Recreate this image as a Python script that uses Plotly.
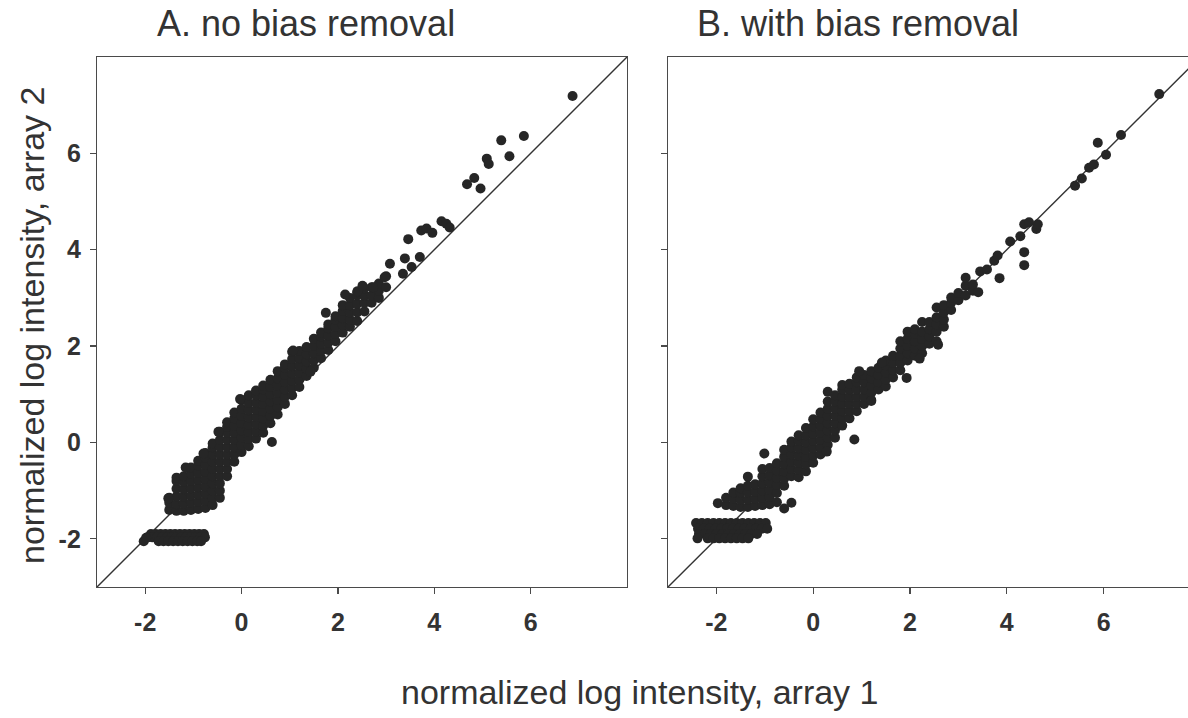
import plotly.graph_objects as go

# ---------------- data ----------------
panel_titles = ["A. no bias removal", "B. with bias removal"]
x_axis_title = "normalized log intensity, array 1"
y_axis_title = "normalized log intensity, array 2"
tick_values = [-2, 0, 2, 4, 6]
tick_labels = ["-2", "0", "2", "4", "6"]
identity_line = [-3, 8]

# Panel A: no bias removal.  Floor cluster rows (x values at a given y)
a_floor_rows = [
    (-1.90, [-1.88, -1.78, -1.68, -1.58, -1.48, -1.38, -1.28, -1.18, -1.08, -0.98, -0.88, -0.78]),
    (-1.97, [-1.95, -1.85, -1.75, -1.65, -1.55, -1.45, -1.35, -1.25, -1.15, -1.05, -0.95, -0.85, -0.76]),
    (-2.05, [-2.03, -1.72, -1.62, -1.52, -1.42, -1.32, -1.22, -1.12, -1.02, -0.92, -0.84]),
]
# Main band: columns (x, y values)
a_band_cols = [
    (-1.50, [-1.40, -1.25, -1.15]),
    (-1.35, [-1.42, -1.28, -1.12, -0.96, -0.80, -0.73]),
    (-1.20, [-1.42, -1.27, -1.12, -0.97, -0.82, -0.70]),
    (-1.05, [-1.40, -1.25, -1.10, -0.95, -0.80, -0.65, -0.52]),
    (-0.90, [-1.38, -1.23, -1.08, -0.93, -0.78, -0.63, -0.48, -0.38]),
    (-0.75, [-1.36, -1.21, -1.06, -0.91, -0.76, -0.61, -0.46, -0.32, -0.22]),
    (-0.60, [-1.30, -1.15, -1.00, -0.85, -0.70, -0.55, -0.40, -0.25, -0.10, -0.02]),
    (-0.45, [-1.15, -1.00, -0.85, -0.70, -0.55, -0.40, -0.25, -0.10, 0.05, 0.22]),
    (-0.30, [-0.70, -0.55, -0.40, -0.25, -0.10, 0.05, 0.20, 0.32, 0.42]),
    (-0.15, [-0.40, -0.25, -0.10, 0.05, 0.20, 0.35, 0.50, 0.62]),
    (0.00, [-0.20, -0.05, 0.10, 0.25, 0.40, 0.55, 0.70, 0.88]),
    (0.15, [-0.08, 0.07, 0.22, 0.37, 0.52, 0.67, 0.82, 0.98]),
    (0.30, [0.08, 0.23, 0.38, 0.53, 0.68, 0.83, 0.98, 1.08]),
    (0.45, [0.20, 0.35, 0.50, 0.65, 0.80, 0.95, 1.10, 1.18]),
    (0.60, [0.40, 0.55, 0.70, 0.85, 1.00, 1.15, 1.30]),
    (0.75, [0.58, 0.73, 0.88, 1.03, 1.18, 1.33, 1.48]),
    (0.90, [0.80, 0.95, 1.10, 1.25, 1.40, 1.55, 1.62]),
    (1.05, [0.98, 1.13, 1.28, 1.43, 1.58, 1.73, 1.88]),
    (1.20, [1.15, 1.30, 1.45, 1.60, 1.75, 1.90]),
    (1.35, [1.38, 1.53, 1.68, 1.83, 1.98]),
    (1.50, [1.55, 1.70, 1.85, 2.00, 2.15]),
    (1.65, [1.75, 1.90, 2.05, 2.20, 2.28]),
    (1.80, [1.92, 2.07, 2.22, 2.37, 2.45]),
    (1.95, [2.10, 2.25, 2.40, 2.55, 2.62]),
    (2.10, [2.28, 2.43, 2.58, 2.73, 2.85]),
    (2.25, [2.40, 2.55, 2.70, 2.85, 3.00]),
    (2.40, [2.52, 2.70, 2.88, 3.05, 3.12]),
    (2.55, [2.72, 2.90, 3.05, 3.20]),
    (2.70, [2.90, 3.05, 3.22]),
    (2.85, [3.00, 3.15, 3.30]),
    (3.00, [3.22, 3.45]),
]
# Scattered points of panel A
a_scatter = [
    (-1.98, -1.98), (-1.52, -1.16), (-1.16, -0.52), (-0.79, -0.23), (-0.48, 0.22),
    (-0.03, 0.90), (0.63, 0.01), (1.07, 1.91), (1.43, 1.47), (1.75, 2.69),
    (2.15, 3.07), (2.41, 3.14), (2.51, 3.25), (2.73, 3.22), (2.97, 3.43),
    (3.08, 3.71), (3.35, 3.50), (3.39, 3.82), (3.53, 3.64), (3.70, 3.85),
    (3.46, 4.22), (3.73, 4.40), (3.84, 4.44), (3.96, 4.35), (4.15, 4.59),
    (4.25, 4.54), (4.32, 4.46), (4.68, 5.36), (4.83, 5.49), (4.96, 5.27),
    (5.09, 5.89), (5.13, 5.78), (5.39, 6.27), (5.56, 5.94), (5.86, 6.36),
    (6.87, 7.19),
]

# Panel B: with bias removal
b_floor_rows = [
    (-1.67, [-2.42, -2.30, -2.18, -2.06, -1.94, -1.82, -1.70, -1.58, -1.46, -1.34, -1.22, -1.10, -0.98]),
    (-1.79, [-2.38, -2.26, -2.14, -2.02, -1.90, -1.78, -1.66, -1.54, -1.42, -1.30, -1.18, -1.06, -0.95]),
    (-1.90, [-2.36, -2.24, -2.12, -2.00, -1.88, -1.76, -1.64, -1.52, -1.40, -1.28, -1.16]),
    (-1.99, [-2.39, -2.18, -2.06, -1.94, -1.82, -1.70, -1.58, -1.46, -1.34]),
]
b_band_cols = [
    (-1.80, [-1.30, -1.15]),
    (-1.65, [-1.32, -1.17, -1.04]),
    (-1.50, [-1.34, -1.19, -1.04, -0.95]),
    (-1.35, [-1.34, -1.19, -1.04, -0.90, -0.71]),
    (-1.20, [-1.32, -1.17, -1.02, -0.87]),
    (-1.05, [-1.30, -1.15, -1.00, -0.85, -0.70, -0.55]),
    (-0.90, [-1.28, -1.13, -0.98, -0.83, -0.68, -0.53]),
    (-0.75, [-1.24, -1.05, -0.88, -0.73, -0.58, -0.43]),
    (-0.60, [-1.37, -0.90, -0.75, -0.60, -0.45, -0.30, -0.15]),
    (-0.45, [-1.25, -0.70, -0.55, -0.40, -0.25, -0.10, 0.02]),
    (-0.30, [-0.72, -0.57, -0.42, -0.27, -0.12, 0.03, 0.15]),
    (-0.15, [-0.60, -0.45, -0.30, -0.15, 0.00, 0.15, 0.30]),
    (0.00, [-0.42, -0.27, -0.12, 0.03, 0.18, 0.33, 0.48]),
    (0.15, [-0.25, -0.10, 0.05, 0.20, 0.35, 0.50, 0.62]),
    (0.30, [-0.05, 0.10, 0.25, 0.40, 0.55, 0.70, 0.85, 1.05]),
    (0.45, [0.10, 0.25, 0.40, 0.55, 0.70, 0.85, 0.98]),
    (0.60, [0.35, 0.50, 0.65, 0.80, 0.95, 1.10, 1.19]),
    (0.75, [0.50, 0.65, 0.80, 0.95, 1.10, 1.22]),
    (0.90, [0.65, 0.80, 0.95, 1.10, 1.25, 1.35]),
    (1.05, [0.80, 0.95, 1.10, 1.25, 1.40]),
    (1.20, [0.88, 1.03, 1.18, 1.33, 1.48]),
    (1.35, [1.10, 1.25, 1.40, 1.55]),
    (1.50, [1.16, 1.30, 1.45, 1.60, 1.70]),
    (1.65, [1.35, 1.50, 1.65, 1.80]),
    (1.80, [1.50, 1.65, 1.80, 1.95, 2.10]),
    (1.95, [1.70, 1.85, 2.00, 2.15, 2.30]),
    (2.10, [1.80, 1.95, 2.10, 2.25, 2.35]),
    (2.25, [1.85, 2.00, 2.15, 2.30, 2.50]),
    (2.40, [2.05, 2.20, 2.35, 2.50]),
    (2.55, [2.10, 2.30, 2.45, 2.60, 2.80]),
    (2.70, [2.40, 2.55, 2.70, 2.85]),
    (2.85, [2.75, 2.90, 3.01]),
    (3.00, [2.95, 3.10]),
    (3.15, [3.05, 3.25, 3.42]),
    (3.30, [3.15, 3.28]),
]
b_scatter = [
    (-1.97, -1.26), (-1.01, -0.23), (0.28, -0.19), (0.85, 0.06), (0.95, 1.48),
    (1.20, 0.86), (1.42, 1.66), (1.93, 1.34), (2.20, 1.74), (2.58, 2.03),
    (3.41, 3.12), (3.45, 3.55), (3.59, 3.59), (3.74, 3.77), (3.81, 3.88),
    (3.85, 3.41), (4.07, 4.17), (4.28, 4.28), (4.36, 4.53), (4.36, 3.95),
    (4.36, 3.68), (4.46, 4.57), (4.61, 4.43), (4.64, 4.53), (5.41, 5.33),
    (5.55, 5.48), (5.70, 5.70), (5.80, 5.77), (5.88, 6.22), (6.05, 5.97),
    (6.36, 6.38), (7.15, 7.23),
]


def collect(floor_rows, band_cols, scatter):
    xs, ys = [], []
    for y, xlist in floor_rows:
        for x in xlist:
            xs.append(x)
            ys.append(y)
    for x, ylist in band_cols:
        for y in ylist:
            xs.append(x)
            ys.append(y)
    for x, y in scatter:
        xs.append(x)
        ys.append(y)
    return xs, ys


# ---------------- figure ----------------
W, H = 1188, 718
ML, MR, MT, MB = 97, 0, 57, 131
PW = W - ML - MR
PH = H - MT - MB


def px_x(p):
    return (p - ML) / PW


def px_y(p):
    return (H - MB - p) / PH


INK = "#262626"
AXC = "#4a4a4a"
FONT = "Liberation Sans, Arial, Helvetica, sans-serif"

fig = go.Figure()
for (fr, bc, sc), xa, ya in [((a_floor_rows, a_band_cols, a_scatter), "x", "y"),
                              ((b_floor_rows, b_band_cols, b_scatter), "x2", "y2")]:
    xs, ys = collect(fr, bc, sc)
    fig.add_trace(go.Scatter(
        x=identity_line, y=identity_line, mode="lines",
        line=dict(color="#333333", width=1.4), xaxis=xa, yaxis=ya,
        hoverinfo="skip", showlegend=False))
    fig.add_trace(go.Scatter(
        x=xs, y=ys, mode="markers",
        marker=dict(size=10, color=INK, line=dict(width=0)),
        xaxis=xa, yaxis=ya, showlegend=False))

tickfont = dict(family=FONT, size=25, color="#333333", weight="bold")
common = dict(showgrid=False, zeroline=False, showline=True, linecolor=AXC,
              linewidth=1.2, ticks="outside", ticklen=6, tickcolor=AXC,
              tickwidth=1.2, tickvals=tick_values, ticktext=tick_labels,
              tickfont=tickfont)

fig.update_layout(
    width=W, height=H,
    margin=dict(l=ML, r=MR, t=MT, b=MB, autoexpand=False),
    paper_bgcolor="white", plot_bgcolor="white",
    hovermode=False,
    xaxis=dict(domain=[0, px_x(627)], range=[-3, 8], mirror=True,
               ticklabelstandoff=7, **common),
    yaxis=dict(domain=[0, 1], range=[-3, 8], mirror=True,
               ticklabelstandoff=4, **common),
    xaxis2=dict(domain=[px_x(668), 1], range=[-3, -3 + (W - 668) / 48.4],
                mirror=True, anchor="y2", ticklabelstandoff=7, **common),
    yaxis2=dict(domain=[0, 1], range=[-3, 8], mirror=False, anchor="x2",
                showticklabels=False, **common),
)

ann_font = dict(family=FONT, color="#333333")
fig.add_annotation(text=panel_titles[0], xref="paper", yref="paper",
                   x=px_x(155), y=px_y(24), xanchor="left", yanchor="middle",
                   showarrow=False, font=dict(size=36, **ann_font))
fig.add_annotation(text=panel_titles[1], xref="paper", yref="paper",
                   x=px_x(695), y=px_y(24), xanchor="left", yanchor="middle",
                   showarrow=False, font=dict(size=36, **ann_font))
fig.add_annotation(text=x_axis_title, xref="paper", yref="paper",
                   x=px_x(639), y=px_y(692), xanchor="center", yanchor="middle",
                   showarrow=False, font=dict(size=34, **ann_font))
fig.add_annotation(text=y_axis_title, xref="paper", yref="paper",
                   x=px_x(32), y=px_y(326), xanchor="center", yanchor="middle",
                   textangle=-90, showarrow=False, font=dict(size=34, **ann_font))

fig.write_html("out.html",
               config={"displayModeBar": False, "staticPlot": True},
               post_script="document.body.style.margin='0';document.body.style.overflow='hidden';")
